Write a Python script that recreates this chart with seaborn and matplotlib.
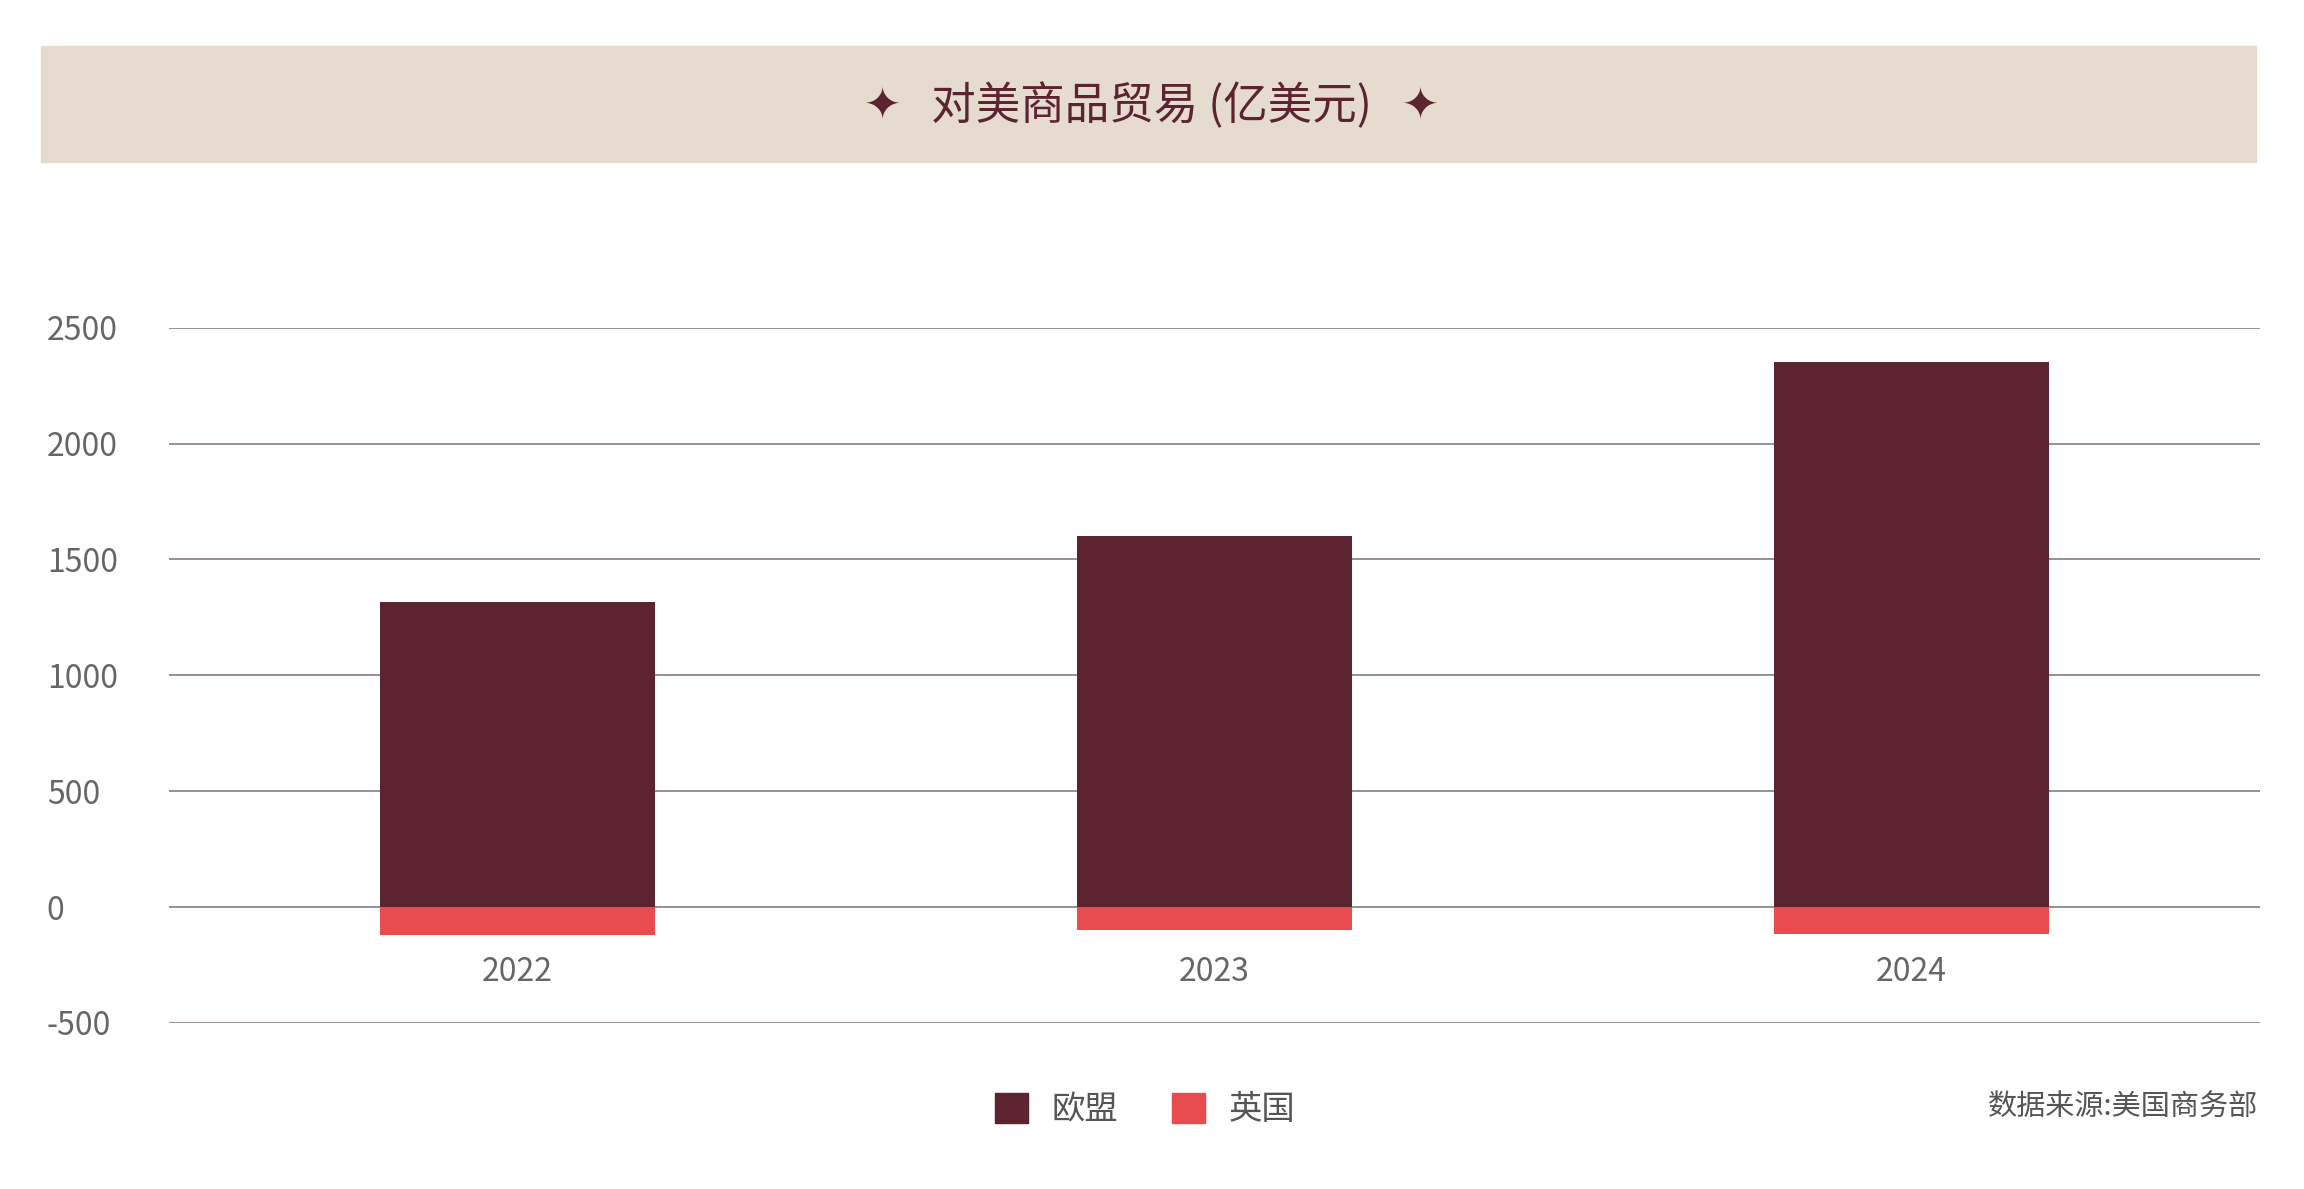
import matplotlib
matplotlib.use("Agg")
import matplotlib.pyplot as plt
import seaborn as sns
import pandas as pd
from matplotlib.patches import Rectangle, Patch

years = ["2022", "2023", "2024"]
eu = [1318, 1601, 2354]
uk = [-120, -97, -115]
yticks = [-500, 0, 500, 1000, 1500, 2000, 2500]

sns.set_style("white")
plt.rcParams['font.family'] = ['Noto Sans CJK SC', 'DejaVu Sans']

fig = plt.figure(figsize=(23.04, 11.89), dpi=100)
fig.patches.append(Rectangle((28/1568, 1-110/809), (1535-28)/1568, 79/809,
                             transform=fig.transFigure, color="#e5dccf", zorder=0))
fig.text(0.5, 1-72/809, "✦   对美商品贸易 (亿美元)   ✦", ha="center", va="center",
         fontsize=32, color="#5c2330")

ax = fig.add_axes([115/1568, 1-696/809, (1538-115)/1568, (696-223)/809])
df = pd.DataFrame({"year": years, "eu": eu, "uk": uk})
sns.barplot(data=df, x="year", y="eu", color="#5c2330", width=0.395, ax=ax, saturation=1, zorder=3, linewidth=0)
sns.barplot(data=df, x="year", y="uk", color="#e84c4f", width=0.395, ax=ax, saturation=1, zorder=3, linewidth=0)
ax.set_xlim(-0.5, 2.5)
ax.set_ylim(-500, 2500)
ax.set_yticks(yticks)
ax.set_yticklabels([str(v) for v in yticks])
for v in yticks:
    ax.axhline(v, color="#8a7a80", lw=1.2, zorder=1)
for s in ax.spines.values():
    s.set_visible(False)
ax.set_xlabel(""); ax.set_ylabel("")
ax.tick_params(axis="y", labelsize=23, labelcolor="#666666", length=0)
ax.tick_params(axis="x", labelsize=23, labelcolor="#666666", length=0, pad=-48)
for lbl in ax.get_yticklabels():
    lbl.set_horizontalalignment("left")
ax.yaxis.set_tick_params(pad=88)

handles = [Patch(color="#5c2330", label="欧盟"), Patch(color="#e84c4f", label="英国")]
fig.legend(handles=handles, loc="center", bbox_to_anchor=(0.497, 1-755/809), ncol=2,
           frameon=False, fontsize=24, handlelength=1.0, handleheight=1.0, columnspacing=1.6,
           handletextpad=0.7, labelcolor="#555555")
fig.text(1537/1568, 1-754/809, "数据来源:美国商务部", ha="right", va="center", fontsize=21, color="#555555")
fig.savefig("out.png", dpi=100)
